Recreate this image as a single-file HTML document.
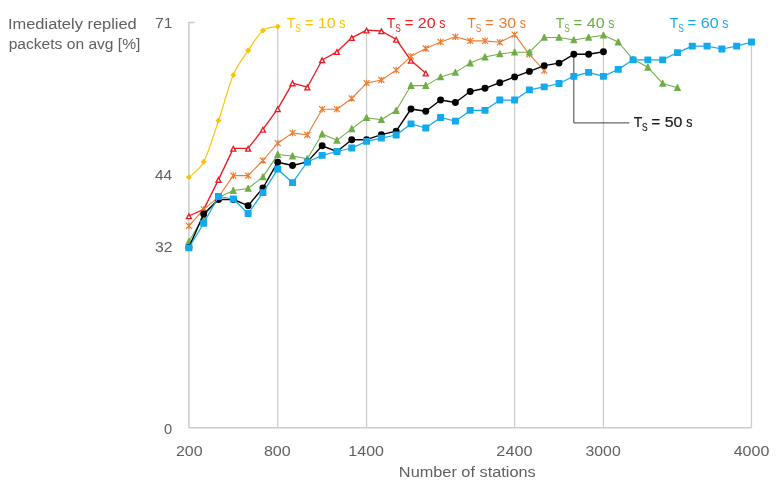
<!DOCTYPE html>
<html><head><meta charset="utf-8"><title>Chart</title>
<style>
html,body{margin:0;padding:0;background:#fff;}
svg{display:block;}
text{font-family:"Liberation Sans","DejaVu Sans",sans-serif;}
.ax{fill:#606060;font-size:14.9px;}
.lb{font-size:14.7px;}
.sub{font-size:10.3px;}
</style></head><body>
<svg width="777" height="491" viewBox="0 0 777 491">
<rect width="777" height="491" fill="#fff"/>

<g stroke="#cbcbcb" fill="none">
<path d="M194.5 22.6H188.9V427.7H751.5" stroke-width="1.5" stroke-linejoin="round"/>
<path d="M277.73 26.5V427.7" stroke-width="1.25"/>
<path d="M366.56 30.2V427.7" stroke-width="1.25"/>
<path d="M514.61 34.7V427.7" stroke-width="1.25"/>
<path d="M603.44 35.2V427.7" stroke-width="1.25"/>
<path d="M751.49 42V427.7" stroke-width="1.25"/>
</g>
<path d="M573.83 54.3V122.9H629.4" stroke="#404040" stroke-width="1" fill="none"/>
<path d="M188.9 177.2C191.37 174.63 198.78 171.23 203.71 161.8C208.65 152.37 213.58 135.08 218.51 120.6C223.44 106.12 228.38 86.57 233.31 74.9C238.25 63.23 243.18 57.98 248.12 50.6C253.06 43.22 258.00 34.62 262.93 30.6C267.87 26.58 275.26 27.18 277.73 26.5" fill="none" stroke="#FFC000" stroke-width="1.15"/>
<g><path d="M188.9 174.2L191.9 177.2L188.9 180.2L185.9 177.2Z" fill="#FFC000"/><path d="M203.71 158.8L206.71 161.8L203.71 164.8L200.71 161.8Z" fill="#FFC000"/><path d="M218.51 117.6L221.51 120.6L218.51 123.6L215.51 120.6Z" fill="#FFC000"/><path d="M233.31 71.9L236.31 74.9L233.31 77.9L230.31 74.9Z" fill="#FFC000"/><path d="M248.12 47.6L251.12 50.6L248.12 53.6L245.12 50.6Z" fill="#FFC000"/><path d="M262.93 27.6L265.93 30.6L262.93 33.6L259.93 30.6Z" fill="#FFC000"/><path d="M277.73 23.5L280.73 26.5L277.73 29.5L274.73 26.5Z" fill="#FFC000"/></g>
<polyline points="188.9,216 203.71,209.4 218.51,179.6 233.31,148.4 248.12,148.4 262.93,129.4 277.73,108.9 292.53,83.1 307.34,87.2 322.14,60 336.95,51.8 351.75,37.8 366.56,30.2 381.37,31 396.17,39.4 410.98,60.5 425.78,73.2" fill="none" stroke="#EC1C24" stroke-width="1.35" stroke-linejoin="round"/>
<g><path d="M188.9 212.5L192.5 219.3L185.3 219.3Z" fill="#EC1C24"/><path d="M188.9 215.4L190.2 218.0L187.6 218.0Z" fill="#fff"/><path d="M203.71 205.9L207.31 212.7L200.11 212.7Z" fill="#EC1C24"/><path d="M203.71 208.8L205.01 211.4L202.41 211.4Z" fill="#fff"/><path d="M218.51 176.1L222.11 182.9L214.91 182.9Z" fill="#EC1C24"/><path d="M218.51 179.0L219.81 181.6L217.21 181.6Z" fill="#fff"/><path d="M233.31 144.9L236.91 151.7L229.71 151.7Z" fill="#EC1C24"/><path d="M233.31 147.8L234.61 150.4L232.01 150.4Z" fill="#fff"/><path d="M248.12 144.9L251.72 151.7L244.52 151.7Z" fill="#EC1C24"/><path d="M248.12 147.8L249.42 150.4L246.82 150.4Z" fill="#fff"/><path d="M262.93 125.9L266.53 132.7L259.33 132.7Z" fill="#EC1C24"/><path d="M262.93 128.8L264.23 131.4L261.63 131.4Z" fill="#fff"/><path d="M277.73 105.4L281.33 112.2L274.13 112.2Z" fill="#EC1C24"/><path d="M277.73 108.3L279.03 110.9L276.43 110.9Z" fill="#fff"/><path d="M292.53 79.6L296.13 86.4L288.93 86.4Z" fill="#EC1C24"/><path d="M292.53 82.5L293.83 85.1L291.23 85.1Z" fill="#fff"/><path d="M307.34 83.7L310.94 90.5L303.74 90.5Z" fill="#EC1C24"/><path d="M307.34 86.6L308.64 89.2L306.04 89.2Z" fill="#fff"/><path d="M322.14 56.5L325.74 63.3L318.54 63.3Z" fill="#EC1C24"/><path d="M322.14 59.4L323.44 62.0L320.84 62.0Z" fill="#fff"/><path d="M336.95 48.3L340.55 55.1L333.35 55.1Z" fill="#EC1C24"/><path d="M336.95 51.2L338.25 53.8L335.65 53.8Z" fill="#fff"/><path d="M351.75 34.3L355.35 41.1L348.15 41.1Z" fill="#EC1C24"/><path d="M351.75 37.2L353.05 39.8L350.45 39.8Z" fill="#fff"/><path d="M366.56 26.7L370.16 33.5L362.96 33.5Z" fill="#EC1C24"/><path d="M366.56 29.6L367.86 32.2L365.26 32.2Z" fill="#fff"/><path d="M381.37 27.5L384.97 34.3L377.77 34.3Z" fill="#EC1C24"/><path d="M381.37 30.4L382.67 33.0L380.07 33.0Z" fill="#fff"/><path d="M396.17 35.9L399.77 42.7L392.57 42.7Z" fill="#EC1C24"/><path d="M396.17 38.8L397.47 41.4L394.87 41.4Z" fill="#fff"/><path d="M410.98 57.0L414.58 63.8L407.38 63.8Z" fill="#EC1C24"/><path d="M410.98 59.9L412.28 62.5L409.68 62.5Z" fill="#fff"/><path d="M425.78 69.7L429.38 76.5L422.18 76.5Z" fill="#EC1C24"/><path d="M425.78 72.6L427.08 75.2L424.48 75.2Z" fill="#fff"/></g>
<polyline points="188.9,225.9 203.71,209.4 218.51,197 233.31,175.6 248.12,175.6 262.93,160.5 277.73,143.2 292.53,132.9 307.34,135 322.14,109.2 336.95,109.2 351.75,98.5 366.56,83.1 381.37,80 396.17,70.1 410.98,56.3 425.78,48.5 440.59,41.9 455.39,36.8 470.2,40.9 485.0,40.9 499.8,42.3 514.61,34.7 529.41,54.3 544.22,70.7" fill="none" stroke="#ED7D31" stroke-width="1.1" stroke-linejoin="round"/>
<g><path d="M185.9 222.9L191.9 228.9M191.9 222.9L185.9 228.9M188.9 222.6L188.9 229.2" stroke="#ED7D31" stroke-width="1.2" fill="none"/><path d="M200.71 206.4L206.71 212.4M206.71 206.4L200.71 212.4M203.71 206.1L203.71 212.7" stroke="#ED7D31" stroke-width="1.2" fill="none"/><path d="M215.51 194.0L221.51 200.0M221.51 194.0L215.51 200.0M218.51 193.7L218.51 200.3" stroke="#ED7D31" stroke-width="1.2" fill="none"/><path d="M230.31 172.6L236.31 178.6M236.31 172.6L230.31 178.6M233.31 172.3L233.31 178.9" stroke="#ED7D31" stroke-width="1.2" fill="none"/><path d="M245.12 172.6L251.12 178.6M251.12 172.6L245.12 178.6M248.12 172.3L248.12 178.9" stroke="#ED7D31" stroke-width="1.2" fill="none"/><path d="M259.93 157.5L265.93 163.5M265.93 157.5L259.93 163.5M262.93 157.2L262.93 163.8" stroke="#ED7D31" stroke-width="1.2" fill="none"/><path d="M274.73 140.2L280.73 146.2M280.73 140.2L274.73 146.2M277.73 139.9L277.73 146.5" stroke="#ED7D31" stroke-width="1.2" fill="none"/><path d="M289.53 129.9L295.53 135.9M295.53 129.9L289.53 135.9M292.53 129.6L292.53 136.2" stroke="#ED7D31" stroke-width="1.2" fill="none"/><path d="M304.34 132.0L310.34 138.0M310.34 132.0L304.34 138.0M307.34 131.7L307.34 138.3" stroke="#ED7D31" stroke-width="1.2" fill="none"/><path d="M319.14 106.2L325.14 112.2M325.14 106.2L319.14 112.2M322.14 105.9L322.14 112.5" stroke="#ED7D31" stroke-width="1.2" fill="none"/><path d="M333.95 106.2L339.95 112.2M339.95 106.2L333.95 112.2M336.95 105.9L336.95 112.5" stroke="#ED7D31" stroke-width="1.2" fill="none"/><path d="M348.75 95.5L354.75 101.5M354.75 95.5L348.75 101.5M351.75 95.2L351.75 101.8" stroke="#ED7D31" stroke-width="1.2" fill="none"/><path d="M363.56 80.1L369.56 86.1M369.56 80.1L363.56 86.1M366.56 79.8L366.56 86.4" stroke="#ED7D31" stroke-width="1.2" fill="none"/><path d="M378.37 77.0L384.37 83.0M384.37 77.0L378.37 83.0M381.37 76.7L381.37 83.3" stroke="#ED7D31" stroke-width="1.2" fill="none"/><path d="M393.17 67.1L399.17 73.1M399.17 67.1L393.17 73.1M396.17 66.8L396.17 73.4" stroke="#ED7D31" stroke-width="1.2" fill="none"/><path d="M407.98 53.3L413.98 59.3M413.98 53.3L407.98 59.3M410.98 53.0L410.98 59.6" stroke="#ED7D31" stroke-width="1.2" fill="none"/><path d="M422.78 45.5L428.78 51.5M428.78 45.5L422.78 51.5M425.78 45.2L425.78 51.8" stroke="#ED7D31" stroke-width="1.2" fill="none"/><path d="M437.59 38.9L443.59 44.9M443.59 38.9L437.59 44.9M440.59 38.6L440.59 45.2" stroke="#ED7D31" stroke-width="1.2" fill="none"/><path d="M452.39 33.8L458.39 39.8M458.39 33.8L452.39 39.8M455.39 33.5L455.39 40.1" stroke="#ED7D31" stroke-width="1.2" fill="none"/><path d="M467.2 37.9L473.2 43.9M473.2 37.9L467.2 43.9M470.2 37.6L470.2 44.2" stroke="#ED7D31" stroke-width="1.2" fill="none"/><path d="M482.0 37.9L488.0 43.9M488.0 37.9L482.0 43.9M485.0 37.6L485.0 44.2" stroke="#ED7D31" stroke-width="1.2" fill="none"/><path d="M496.8 39.3L502.8 45.3M502.8 39.3L496.8 45.3M499.8 39.0L499.8 45.6" stroke="#ED7D31" stroke-width="1.2" fill="none"/><path d="M511.61 31.7L517.61 37.7M517.61 31.7L511.61 37.7M514.61 31.4L514.61 38.0" stroke="#ED7D31" stroke-width="1.2" fill="none"/><path d="M526.41 51.3L532.41 57.3M532.41 51.3L526.41 57.3M529.41 51.0L529.41 57.6" stroke="#ED7D31" stroke-width="1.2" fill="none"/><path d="M541.22 67.7L547.22 73.7M547.22 67.7L541.22 73.7M544.22 67.4L544.22 74.0" stroke="#ED7D31" stroke-width="1.2" fill="none"/></g>
<polyline points="188.9,241.5 203.71,216.6 218.51,197.5 233.31,190.5 248.12,188.4 262.93,176.9 277.73,154.6 292.53,156 307.34,158.7 322.14,134 336.95,140.3 351.75,128.8 366.56,117.7 381.37,119.7 396.17,110.5 410.98,85.6 425.78,85.6 440.59,76.9 455.39,72.4 470.2,63.1 485.0,57 499.8,53.9 514.61,52.2 529.41,52.2 544.22,37.4 559.02,37.4 573.83,39.9 588.63,37.4 603.44,35.2 618.25,42 633.05,59.3 647.86,67.3 662.66,83.4 677.47,87.7" fill="none" stroke="#70AD47" stroke-width="1.05" stroke-linejoin="round"/>
<g><path d="M188.4 238.0H189.4L192.6 244.9H185.2Z" fill="#70AD47"/><path d="M203.21 213.1H204.21L207.41 220.0H200.01Z" fill="#70AD47"/><path d="M218.01 194.0H219.01L222.21 200.9H214.81Z" fill="#70AD47"/><path d="M232.81 187.0H233.81L237.01 193.9H229.61Z" fill="#70AD47"/><path d="M247.62 184.9H248.62L251.82 191.8H244.42Z" fill="#70AD47"/><path d="M262.43 173.4H263.43L266.63 180.3H259.23Z" fill="#70AD47"/><path d="M277.23 151.1H278.23L281.43 158.0H274.03Z" fill="#70AD47"/><path d="M292.03 152.5H293.03L296.23 159.4H288.83Z" fill="#70AD47"/><path d="M306.84 155.2H307.84L311.04 162.1H303.64Z" fill="#70AD47"/><path d="M321.64 130.5H322.64L325.84 137.4H318.44Z" fill="#70AD47"/><path d="M336.45 136.8H337.45L340.65 143.7H333.25Z" fill="#70AD47"/><path d="M351.25 125.3H352.25L355.45 132.2H348.05Z" fill="#70AD47"/><path d="M366.06 114.2H367.06L370.26 121.1H362.86Z" fill="#70AD47"/><path d="M380.87 116.2H381.87L385.07 123.1H377.67Z" fill="#70AD47"/><path d="M395.67 107.0H396.67L399.87 113.9H392.47Z" fill="#70AD47"/><path d="M410.48 82.1H411.48L414.68 89.0H407.28Z" fill="#70AD47"/><path d="M425.28 82.1H426.28L429.48 89.0H422.08Z" fill="#70AD47"/><path d="M440.09 73.4H441.09L444.29 80.3H436.89Z" fill="#70AD47"/><path d="M454.89 68.9H455.89L459.09 75.8H451.69Z" fill="#70AD47"/><path d="M469.7 59.6H470.7L473.9 66.5H466.5Z" fill="#70AD47"/><path d="M484.5 53.5H485.5L488.7 60.4H481.3Z" fill="#70AD47"/><path d="M499.3 50.4H500.3L503.5 57.3H496.1Z" fill="#70AD47"/><path d="M514.11 48.7H515.11L518.31 55.6H510.91Z" fill="#70AD47"/><path d="M528.91 48.7H529.91L533.11 55.6H525.71Z" fill="#70AD47"/><path d="M543.72 33.9H544.72L547.92 40.8H540.52Z" fill="#70AD47"/><path d="M558.52 33.9H559.52L562.72 40.8H555.32Z" fill="#70AD47"/><path d="M573.33 36.4H574.33L577.53 43.3H570.13Z" fill="#70AD47"/><path d="M588.13 33.9H589.13L592.33 40.8H584.93Z" fill="#70AD47"/><path d="M602.94 31.7H603.94L607.14 38.6H599.74Z" fill="#70AD47"/><path d="M617.75 38.5H618.75L621.95 45.4H614.55Z" fill="#70AD47"/><path d="M632.55 55.8H633.55L636.75 62.7H629.35Z" fill="#70AD47"/><path d="M647.36 63.8H648.36L651.56 70.7H644.16Z" fill="#70AD47"/><path d="M662.16 79.9H663.16L666.36 86.8H658.96Z" fill="#70AD47"/><path d="M676.97 84.2H677.97L681.17 91.1H673.77Z" fill="#70AD47"/></g>
<polyline points="188.9,247.4 203.71,214 218.51,199.5 233.31,199.5 248.12,205.7 262.93,188 277.73,162.2 292.53,165.5 307.34,161.9 322.14,145.8 336.95,151.5 351.75,139.7 366.56,139.7 381.37,134.6 396.17,131.1 410.98,109 425.78,111.3 440.59,100 455.39,102.5 470.2,91.5 485.0,88.3 499.8,82.7 514.61,76.9 529.41,71.4 544.22,65.6 559.02,63.1 573.83,54.3 588.63,54.3 603.44,51.8" fill="none" stroke="#000000" stroke-width="1.4" stroke-linejoin="round"/>
<g><circle cx="188.9" cy="247.4" r="3.45" fill="#000000"/><circle cx="203.71" cy="214" r="3.45" fill="#000000"/><circle cx="218.51" cy="199.5" r="3.45" fill="#000000"/><circle cx="233.31" cy="199.5" r="3.45" fill="#000000"/><circle cx="248.12" cy="205.7" r="3.45" fill="#000000"/><circle cx="262.93" cy="188" r="3.45" fill="#000000"/><circle cx="277.73" cy="162.2" r="3.45" fill="#000000"/><circle cx="292.53" cy="165.5" r="3.45" fill="#000000"/><circle cx="307.34" cy="161.9" r="3.45" fill="#000000"/><circle cx="322.14" cy="145.8" r="3.45" fill="#000000"/><circle cx="336.95" cy="151.5" r="3.45" fill="#000000"/><circle cx="351.75" cy="139.7" r="3.45" fill="#000000"/><circle cx="366.56" cy="139.7" r="3.45" fill="#000000"/><circle cx="381.37" cy="134.6" r="3.45" fill="#000000"/><circle cx="396.17" cy="131.1" r="3.45" fill="#000000"/><circle cx="410.98" cy="109" r="3.45" fill="#000000"/><circle cx="425.78" cy="111.3" r="3.45" fill="#000000"/><circle cx="440.59" cy="100" r="3.45" fill="#000000"/><circle cx="455.39" cy="102.5" r="3.45" fill="#000000"/><circle cx="470.2" cy="91.5" r="3.45" fill="#000000"/><circle cx="485.0" cy="88.3" r="3.45" fill="#000000"/><circle cx="499.8" cy="82.7" r="3.45" fill="#000000"/><circle cx="514.61" cy="76.9" r="3.45" fill="#000000"/><circle cx="529.41" cy="71.4" r="3.45" fill="#000000"/><circle cx="544.22" cy="65.6" r="3.45" fill="#000000"/><circle cx="559.02" cy="63.1" r="3.45" fill="#000000"/><circle cx="573.83" cy="54.3" r="3.45" fill="#000000"/><circle cx="588.63" cy="54.3" r="3.45" fill="#000000"/><circle cx="603.44" cy="51.8" r="3.45" fill="#000000"/></g>
<polyline points="188.9,247.8 203.71,223.3 218.51,196.5 233.31,199 248.12,213.5 262.93,192.6 277.73,169.2 292.53,182.7 307.34,162 322.14,155.4 336.95,151.5 351.75,148 366.56,141.4 381.37,138.1 396.17,135 410.98,123.9 425.78,128 440.59,117.5 455.39,121.2 470.2,110.4 485.0,110.3 499.8,100 514.61,100 529.41,89.9 544.22,86.8 559.02,83.5 573.83,76.3 588.63,72.4 603.44,76.3 618.25,69.4 633.05,59.8 647.86,59.8 662.66,59.8 677.47,52.6 692.27,46.1 707.07,46.1 721.88,49 736.68,46.1 751.49,42" fill="none" stroke="#12AAEC" stroke-width="1.25" stroke-linejoin="round"/>
<g><rect x="185.40" y="244.40" width="7.0" height="6.8" rx="0.6" fill="#12AAEC"/><rect x="200.21" y="219.90" width="7.0" height="6.8" rx="0.6" fill="#12AAEC"/><rect x="215.01" y="193.10" width="7.0" height="6.8" rx="0.6" fill="#12AAEC"/><rect x="229.81" y="195.60" width="7.0" height="6.8" rx="0.6" fill="#12AAEC"/><rect x="244.62" y="210.10" width="7.0" height="6.8" rx="0.6" fill="#12AAEC"/><rect x="259.43" y="189.20" width="7.0" height="6.8" rx="0.6" fill="#12AAEC"/><rect x="274.23" y="165.80" width="7.0" height="6.8" rx="0.6" fill="#12AAEC"/><rect x="289.03" y="179.30" width="7.0" height="6.8" rx="0.6" fill="#12AAEC"/><rect x="303.84" y="158.60" width="7.0" height="6.8" rx="0.6" fill="#12AAEC"/><rect x="318.64" y="152.00" width="7.0" height="6.8" rx="0.6" fill="#12AAEC"/><rect x="333.45" y="148.10" width="7.0" height="6.8" rx="0.6" fill="#12AAEC"/><rect x="348.25" y="144.60" width="7.0" height="6.8" rx="0.6" fill="#12AAEC"/><rect x="363.06" y="138.00" width="7.0" height="6.8" rx="0.6" fill="#12AAEC"/><rect x="377.87" y="134.70" width="7.0" height="6.8" rx="0.6" fill="#12AAEC"/><rect x="392.67" y="131.60" width="7.0" height="6.8" rx="0.6" fill="#12AAEC"/><rect x="407.48" y="120.50" width="7.0" height="6.8" rx="0.6" fill="#12AAEC"/><rect x="422.28" y="124.60" width="7.0" height="6.8" rx="0.6" fill="#12AAEC"/><rect x="437.09" y="114.10" width="7.0" height="6.8" rx="0.6" fill="#12AAEC"/><rect x="451.89" y="117.80" width="7.0" height="6.8" rx="0.6" fill="#12AAEC"/><rect x="466.70" y="107.00" width="7.0" height="6.8" rx="0.6" fill="#12AAEC"/><rect x="481.50" y="106.90" width="7.0" height="6.8" rx="0.6" fill="#12AAEC"/><rect x="496.30" y="96.60" width="7.0" height="6.8" rx="0.6" fill="#12AAEC"/><rect x="511.11" y="96.60" width="7.0" height="6.8" rx="0.6" fill="#12AAEC"/><rect x="525.91" y="86.50" width="7.0" height="6.8" rx="0.6" fill="#12AAEC"/><rect x="540.72" y="83.40" width="7.0" height="6.8" rx="0.6" fill="#12AAEC"/><rect x="555.52" y="80.10" width="7.0" height="6.8" rx="0.6" fill="#12AAEC"/><rect x="570.33" y="72.90" width="7.0" height="6.8" rx="0.6" fill="#12AAEC"/><rect x="585.13" y="69.00" width="7.0" height="6.8" rx="0.6" fill="#12AAEC"/><rect x="599.94" y="72.90" width="7.0" height="6.8" rx="0.6" fill="#12AAEC"/><rect x="614.75" y="66.00" width="7.0" height="6.8" rx="0.6" fill="#12AAEC"/><rect x="629.55" y="56.40" width="7.0" height="6.8" rx="0.6" fill="#12AAEC"/><rect x="644.36" y="56.40" width="7.0" height="6.8" rx="0.6" fill="#12AAEC"/><rect x="659.16" y="56.40" width="7.0" height="6.8" rx="0.6" fill="#12AAEC"/><rect x="673.97" y="49.20" width="7.0" height="6.8" rx="0.6" fill="#12AAEC"/><rect x="688.77" y="42.70" width="7.0" height="6.8" rx="0.6" fill="#12AAEC"/><rect x="703.57" y="42.70" width="7.0" height="6.8" rx="0.6" fill="#12AAEC"/><rect x="718.38" y="45.60" width="7.0" height="6.8" rx="0.6" fill="#12AAEC"/><rect x="733.18" y="42.70" width="7.0" height="6.8" rx="0.6" fill="#12AAEC"/><rect x="747.99" y="38.60" width="7.0" height="6.8" rx="0.6" fill="#12AAEC"/></g>
<text x="7.98" y="28.5" class="ax" textLength="128.78" lengthAdjust="spacingAndGlyphs">Imediately replied</text>
<text x="8.7" y="49.2" class="ax" textLength="131.72" lengthAdjust="spacingAndGlyphs">packets on avg [%]</text>
<text x="154.94" y="28.0" class="ax" textLength="17.58" lengthAdjust="spacingAndGlyphs">71</text>
<text x="154.94" y="180.1" class="ax" textLength="17.21" lengthAdjust="spacingAndGlyphs">44</text>
<text x="154.9" y="251.8" class="ax" textLength="17.6" lengthAdjust="spacingAndGlyphs">32</text>
<text x="164.03" y="433.5" class="ax" textLength="8.14" lengthAdjust="spacingAndGlyphs">0</text>
<text x="175.9" y="455.9" class="ax" textLength="26.63" lengthAdjust="spacingAndGlyphs">200</text>
<text x="263.95" y="455.9" class="ax" textLength="26.83" lengthAdjust="spacingAndGlyphs">800</text>
<text x="348.38" y="455.9" class="ax" textLength="35.54" lengthAdjust="spacingAndGlyphs">1400</text>
<text x="496.39" y="455.9" class="ax" textLength="36.05" lengthAdjust="spacingAndGlyphs">2400</text>
<text x="585.5" y="455.9" class="ax" textLength="35.22" lengthAdjust="spacingAndGlyphs">3000</text>
<text x="733.73" y="455.9" class="ax" textLength="35.59" lengthAdjust="spacingAndGlyphs">4000</text>
<text x="398.86" y="477.2" class="ax" textLength="136.83" lengthAdjust="spacingAndGlyphs">Number of stations</text>
<text y="27.9" class="lb" fill="#FFC000"><tspan x="286.87" textLength="8.53" lengthAdjust="spacingAndGlyphs">T</tspan><tspan class="sub" x="295.32" dy="4.3" textLength="5.56" lengthAdjust="spacingAndGlyphs">S</tspan> <tspan x="304.68" dy="-4.3" textLength="8.65" lengthAdjust="spacingAndGlyphs">=</tspan> <tspan x="317.88" textLength="17.85" lengthAdjust="spacingAndGlyphs">10</tspan> <tspan x="339.36" textLength="6.19" lengthAdjust="spacingAndGlyphs">s</tspan></text>
<text y="27.9" class="lb" fill="#EC1C24"><tspan x="386.87" textLength="8.53" lengthAdjust="spacingAndGlyphs">T</tspan><tspan class="sub" x="395.32" dy="4.3" textLength="5.56" lengthAdjust="spacingAndGlyphs">S</tspan> <tspan x="404.68" dy="-4.3" textLength="8.65" lengthAdjust="spacingAndGlyphs">=</tspan> <tspan x="417.84" textLength="17.83" lengthAdjust="spacingAndGlyphs">20</tspan> <tspan x="439.36" textLength="6.19" lengthAdjust="spacingAndGlyphs">s</tspan></text>
<text y="27.9" class="lb" fill="#ED7D31"><tspan x="467.32" textLength="8.53" lengthAdjust="spacingAndGlyphs">T</tspan><tspan class="sub" x="475.77" dy="4.3" textLength="5.56" lengthAdjust="spacingAndGlyphs">S</tspan> <tspan x="485.13" dy="-4.3" textLength="8.65" lengthAdjust="spacingAndGlyphs">=</tspan> <tspan x="498.5" textLength="17.62" lengthAdjust="spacingAndGlyphs">30</tspan> <tspan x="519.81" textLength="6.19" lengthAdjust="spacingAndGlyphs">s</tspan></text>
<text y="27.9" class="lb" fill="#70AD47"><tspan x="555.82" textLength="8.53" lengthAdjust="spacingAndGlyphs">T</tspan><tspan class="sub" x="564.27" dy="4.3" textLength="5.56" lengthAdjust="spacingAndGlyphs">S</tspan> <tspan x="573.63" dy="-4.3" textLength="8.65" lengthAdjust="spacingAndGlyphs">=</tspan> <tspan x="586.73" textLength="18.0" lengthAdjust="spacingAndGlyphs">40</tspan> <tspan x="608.31" textLength="6.19" lengthAdjust="spacingAndGlyphs">s</tspan></text>
<text y="27.9" class="lb" fill="#12AAEC"><tspan x="669.77" textLength="8.53" lengthAdjust="spacingAndGlyphs">T</tspan><tspan class="sub" x="678.22" dy="4.3" textLength="5.56" lengthAdjust="spacingAndGlyphs">S</tspan> <tspan x="687.58" dy="-4.3" textLength="8.65" lengthAdjust="spacingAndGlyphs">=</tspan> <tspan x="700.74" textLength="17.84" lengthAdjust="spacingAndGlyphs">60</tspan> <tspan x="722.26" textLength="6.19" lengthAdjust="spacingAndGlyphs">s</tspan></text>
<text y="126.7" class="lb" fill="#1a1a1a" stroke="#1a1a1a" stroke-width="0.2"><tspan x="633.67" textLength="8.53" lengthAdjust="spacingAndGlyphs">T</tspan><tspan class="sub" x="642.12" dy="4.3" textLength="5.56" lengthAdjust="spacingAndGlyphs">S</tspan> <tspan x="651.48" dy="-4.3" textLength="8.65" lengthAdjust="spacingAndGlyphs">=</tspan> <tspan x="664.81" textLength="17.66" lengthAdjust="spacingAndGlyphs">50</tspan> <tspan x="686.16" textLength="6.19" lengthAdjust="spacingAndGlyphs">s</tspan></text>
</svg></body></html>
